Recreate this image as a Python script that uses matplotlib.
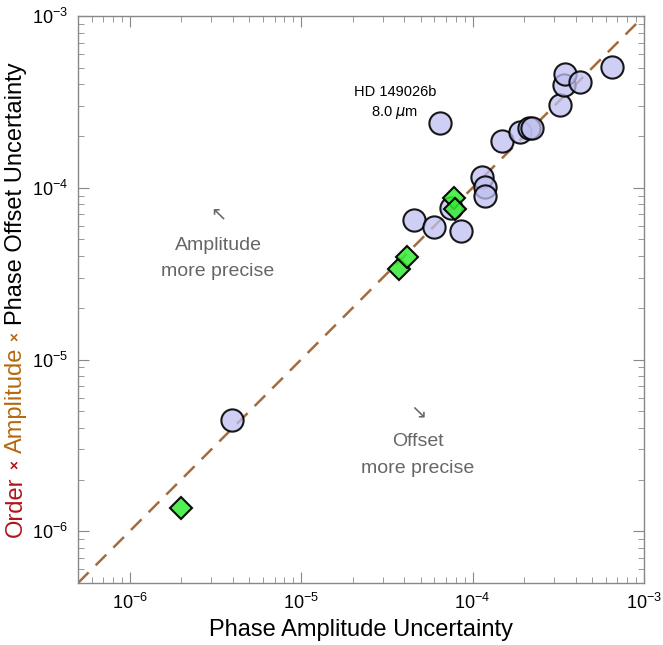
import matplotlib
matplotlib.use("Agg")
import matplotlib.pyplot as plt
import numpy as np

plt.rcParams['font.family'] = ['Liberation Sans', 'DejaVu Sans']
plt.rcParams['mathtext.default'] = 'regular'

# planets (circles): phase amplitude uncertainty vs order*amp*offset uncertainty
circle_amp = [3.97e-6, 6.43e-5, 4.54e-5, 5.93e-5, 8.51e-5, 7.52e-5, 1.14e-4, 1.19e-4,
              1.19e-4, 1.48e-4, 1.88e-4, 2.14e-4, 2.21e-4, 3.25e-4, 3.43e-4, 3.46e-4,
              4.23e-4, 6.49e-4]
circle_off = [4.42e-6, 2.39e-4, 6.52e-5, 5.93e-5, 5.62e-5, 7.65e-5, 1.16e-4, 1.01e-4,
              8.98e-5, 1.86e-4, 2.12e-4, 2.22e-4, 2.22e-4, 3.04e-4, 3.97e-4, 4.58e-4,
              4.12e-4, 5.07e-4]

# diamonds
diamond_amp = [2.0e-6, 3.73e-5, 4.17e-5, 7.79e-5, 7.93e-5]
diamond_off = [1.36e-6, 3.37e-5, 3.93e-5, 8.71e-5, 7.52e-5]

lims = [5e-7, 1e-3]
ticks = [1e-6, 1e-5, 1e-4, 1e-3]
tick_labels = [r'$10^{-6}$', r'$10^{-5}$', r'$10^{-4}$', r'$10^{-3}$']

fig = plt.figure(figsize=(6.63, 6.45), dpi=100)
ax = fig.add_axes([78 / 663, 62 / 645, 566 / 663, 567 / 645])

# one-to-one line
ax.plot(lims, lims, color='#a46c3e', lw=1.8, dashes=(6, 4), zorder=1)

ax.plot(circle_amp, circle_off, 'o', ms=16, mfc=(0.753, 0.753, 0.949, 0.75),
        mec=(0, 0, 0, 0.9), mew=1.5, ls='none', zorder=2)
ax.plot(diamond_amp, diamond_off, 'D', ms=11, mfc=(0.2, 0.93, 0.2, 0.85),
        mec=(0, 0, 0, 0.95), mew=1.5, ls='none', zorder=3)

ax.set_xscale('log')
ax.set_yscale('log')
ax.set_xlim(lims)
ax.set_ylim(lims)
ax.set_xticks(ticks, tick_labels)
ax.set_yticks(ticks, tick_labels)

for sp in ax.spines.values():
    sp.set_color('#888888')
    sp.set_linewidth(1.0)
ax.tick_params(which='both', direction='in', top=True, right=True, colors='#888888',
               labelcolor='black', labelsize=13)
ax.tick_params(which='major', length=8, width=0.8, pad=7)
ax.tick_params(which='minor', length=4, width=0.6)

gray = '#666666'
ax.text(0.2473, 0.650, '↖', transform=ax.transAxes, ha='center', va='center',
        fontsize=14, color=gray)
ax.text(0.2473, 0.596, 'Amplitude', transform=ax.transAxes, ha='center', va='center',
        fontsize=14, color=gray)
ax.text(0.2473, 0.550, 'more precise', transform=ax.transAxes, ha='center', va='center',
        fontsize=14, color=gray)
ax.text(0.6007, 0.2998, '↘', transform=ax.transAxes, ha='center', va='center',
        fontsize=14, color=gray)
ax.text(0.6007, 0.2487, 'Offset', transform=ax.transAxes, ha='center', va='center',
        fontsize=14, color=gray)
ax.text(0.6007, 0.2011, 'more precise', transform=ax.transAxes, ha='center', va='center',
        fontsize=14, color=gray)

ax.text(0.560, 0.866, 'HD 149026b', transform=ax.transAxes, ha='center', va='center',
        fontsize=10.5)
ax.text(0.560, 0.829, r'8.0 $\mathit{\mu}$m', transform=ax.transAxes, ha='center',
        va='center', fontsize=10.5)

fig.text(361 / 663, 15 / 645, 'Phase Amplitude Uncertainty', ha='center', va='center',
         fontsize=17)

# multi-coloured y label, stacked bottom to top
parts = [('Order', '#b0141a', 17, 'normal'),
         ('×', '#b0141a', 11, 'bold'),
         ('Amplitude', '#b5680f', 17, 'normal'),
         ('×', '#b5680f', 11, 'bold'),
         ('Phase Offset Uncertainty', 'black', 17, 'normal')]
gap = 7
renderer = fig.canvas.get_renderer()
texts = []
for s, c, fs, fw in parts:
    t = fig.text(16 / 663, 0, s, color=c, fontsize=fs, fontweight=fw, rotation=90,
                 ha='center', va='bottom')
    texts.append(t)
heights = [t.get_window_extent(renderer).height for t in texts]
total = sum(heights) + gap * (len(texts) - 1)
y = (645 - 299.5) - total / 2
for t, h in zip(texts, heights):
    t.set_y(y / 645)
    y += h + gap

fig.savefig('out.png', dpi=100)
